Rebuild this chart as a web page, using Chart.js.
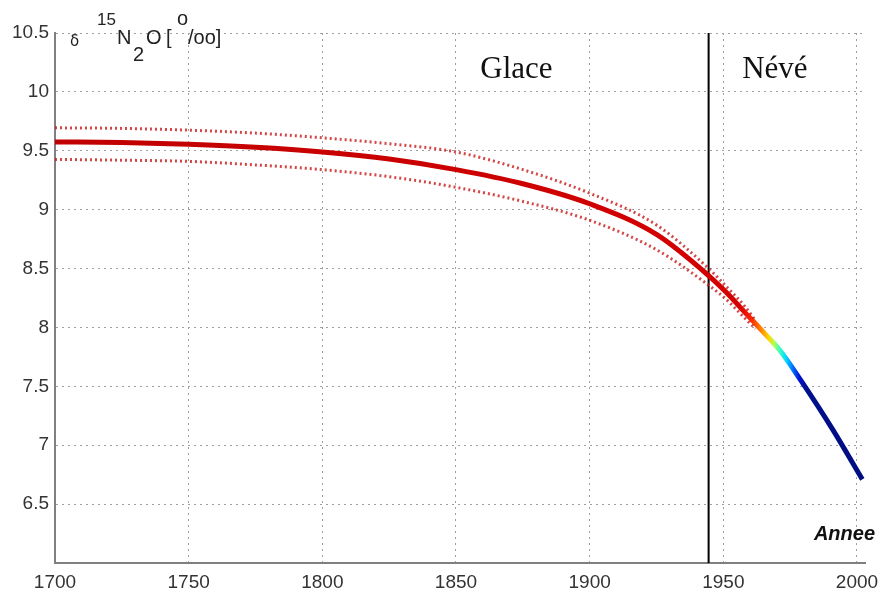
<!DOCTYPE html>
<html>
<head>
<meta charset="utf-8">
<script src="https://cdn.jsdelivr.net/npm/chart.js@4/dist/chart.umd.min.js"></script>
<style>
  html, body { margin: 0; padding: 0; background: #fff; }
  #wrap { width: 887px; height: 596px; position: relative; }
</style>
</head>
<body>
<div id="wrap"><canvas id="n2oChart"></canvas></div>
<script>
// values
const years      = [1700, 1725, 1750, 1775, 1800, 1825, 1850, 1875, 1900, 1925, 1945, 1951, 1958, 1965, 1971, 1979, 1991, 2002];
const mainValues = [9.575, 9.57, 9.555, 9.53, 9.49, 9.43, 9.34, 9.22, 9.05, 8.79, 8.43, 8.30, 8.13, 7.96, 7.81, 7.55, 7.13, 6.71];

const bandYears  = [1700, 1725, 1750, 1775, 1800, 1825, 1850, 1875, 1900, 1925, 1945, 1951, 1958, 1962];
const upperBand  = [9.695, 9.69, 9.675, 9.65, 9.61, 9.56, 9.49, 9.34, 9.14, 8.87, 8.49, 8.35, 8.18, 8.06];
const lowerBand  = [9.427, 9.42, 9.41, 9.38, 9.34, 9.28, 9.19, 9.07, 8.91, 8.66, 8.35, 8.24, 8.08, 7.99];

const limitYear  = 1944.5;   // ice / firn boundary
const xTicks     = [1700, 1750, 1800, 1850, 1900, 1950, 2000];
const yTicks     = [6.5, 7, 7.5, 8, 8.5, 9, 9.5, 10, 10.5];

const pts = (xs, ys) => xs.map((x, i) => ({ x: x, y: ys[i] }));

// jet-like colour ramp along the firn part of the curve
const jetStops = [
    [1700, '#c00000'], [1956, '#d40000'], [1960, '#ff2000'], [1964, '#ff8000'],
    [1967, '#ffd800'], [1969, '#b0ff50'], [1971, '#40ffc0'], [1973.5, '#00d8ff'],
    [1976, '#0070ff'], [1978.5, '#0010d0'], [1981, '#00108c'], [2003, '#000c80']
];

function mainColor(context) {
    const chart = context.chart;
    const { chartArea, scales } = chart;
    if (!chartArea) return '#c00000';
    const x0 = scales.x.getPixelForValue(1700);
    const x1 = scales.x.getPixelForValue(2003);
    const g = chart.ctx.createLinearGradient(x0, 0, x1, 0);
    jetStops.forEach(s => g.addColorStop((s[0] - 1700) / 303, s[1]));
    return g;
}

const labelsPlugin = {
    id: 'labels',
    afterDraw(chart) {
        const { ctx, scales } = chart;
        const x = scales.x, y = scales.y;
        ctx.save();
        ctx.fillStyle = '#111';
        ctx.textBaseline = 'alphabetic';

        ctx.font = '31px "Liberation Serif", "DejaVu Serif", serif';
        ctx.textAlign = 'center';
        ctx.fillText('Glace', x.getPixelForValue(1872.6), y.getPixelForValue(10.12));
        ctx.fillText('Névé', x.getPixelForValue(1969.3), y.getPixelForValue(10.12));

        ctx.font = 'italic bold 20px "Liberation Sans", Arial, sans-serif';
        ctx.textAlign = 'right';
        ctx.fillText('Annee', 875, 540);

        // delta 15 N2O [o/oo]
        ctx.fillStyle = '#222';
        ctx.textAlign = 'left';
        ctx.font = '15px "DejaVu Sans", sans-serif';
        ctx.fillText('δ', 70, 46);
        ctx.font = '17px "Liberation Sans", Arial, sans-serif';
        ctx.fillText('15', 97, 25);
        ctx.font = '20px "Liberation Sans", Arial, sans-serif';
        ctx.fillText('N', 117, 44);
        ctx.fillText('2', 133, 61);
        ctx.fillText('O', 146, 44);
        ctx.fillText('[', 166, 44);
        ctx.fillText('o', 177, 25);
        ctx.fillText('/oo]', 188, 44);
        ctx.restore();
    }
};

new Chart(document.getElementById('n2oChart').getContext('2d'), {
    type: 'line',
    data: {
        datasets: [
            {
                label: 'upper',
                data: pts(bandYears, upperBand),
                borderColor: 'rgba(200, 25, 25, 0.8)',
                borderWidth: 3,
                borderDash: [2, 3],
                pointRadius: 0,
                cubicInterpolationMode: 'monotone'
            },
            {
                label: 'lower',
                data: pts(bandYears, lowerBand),
                borderColor: 'rgba(200, 25, 25, 0.8)',
                borderWidth: 3,
                borderDash: [2, 3],
                pointRadius: 0,
                cubicInterpolationMode: 'monotone'
            },
            {
                label: 'main',
                data: pts(years, mainValues),
                borderColor: mainColor,
                borderWidth: 5,
                pointRadius: 0,
                cubicInterpolationMode: 'monotone'
            },
            {
                label: 'limit',
                data: [{ x: limitYear, y: 6 }, { x: limitYear, y: 10.5 }],
                borderColor: '#000',
                borderWidth: 2,
                pointRadius: 0
            }
        ]
    },
    options: {
        responsive: true,
        maintainAspectRatio: false,
        animation: false,
        layout: {
            padding: { top: 33, right: 22, left: 0, bottom: 0 }
        },
        plugins: {
            legend: { display: false },
            tooltip: { enabled: false }
        },
        scales: {
            x: {
                type: 'linear',
                min: 1700,
                max: 2003,
                afterBuildTicks: function(scale) {
                    scale.ticks = xTicks.map(v => ({ value: v }));
                },
                afterFit: function(scale) {
                    scale.height = 33;
                },
                ticks: {
                    color: '#333',
                    padding: 8,
                    font: { family: '"Liberation Sans", Arial, sans-serif', size: 19 },
                    callback: v => String(v)
                },
                grid: {
                    color: '#a0a0a0',
                    lineWidth: 1,
                    drawTicks: false
                },
                border: { color: '#808080', width: 2, dash: [2, 4] }
            },
            y: {
                type: 'linear',
                min: 6,
                max: 10.5,
                afterBuildTicks: function(scale) {
                    scale.ticks = yTicks.map(v => ({ value: v }));
                },
                afterFit: function(scale) {
                    scale.width = 55;
                },
                ticks: {
                    color: '#333',
                    padding: 6,
                    font: { family: '"Liberation Sans", Arial, sans-serif', size: 19 },
                    callback: v => String(v)
                },
                grid: {
                    color: '#a0a0a0',
                    lineWidth: 1,
                    drawTicks: false
                },
                border: { color: '#808080', width: 2, dash: [2, 4] }
            }
        }
    },
    plugins: [labelsPlugin]
});
</script>
</body>
</html>
